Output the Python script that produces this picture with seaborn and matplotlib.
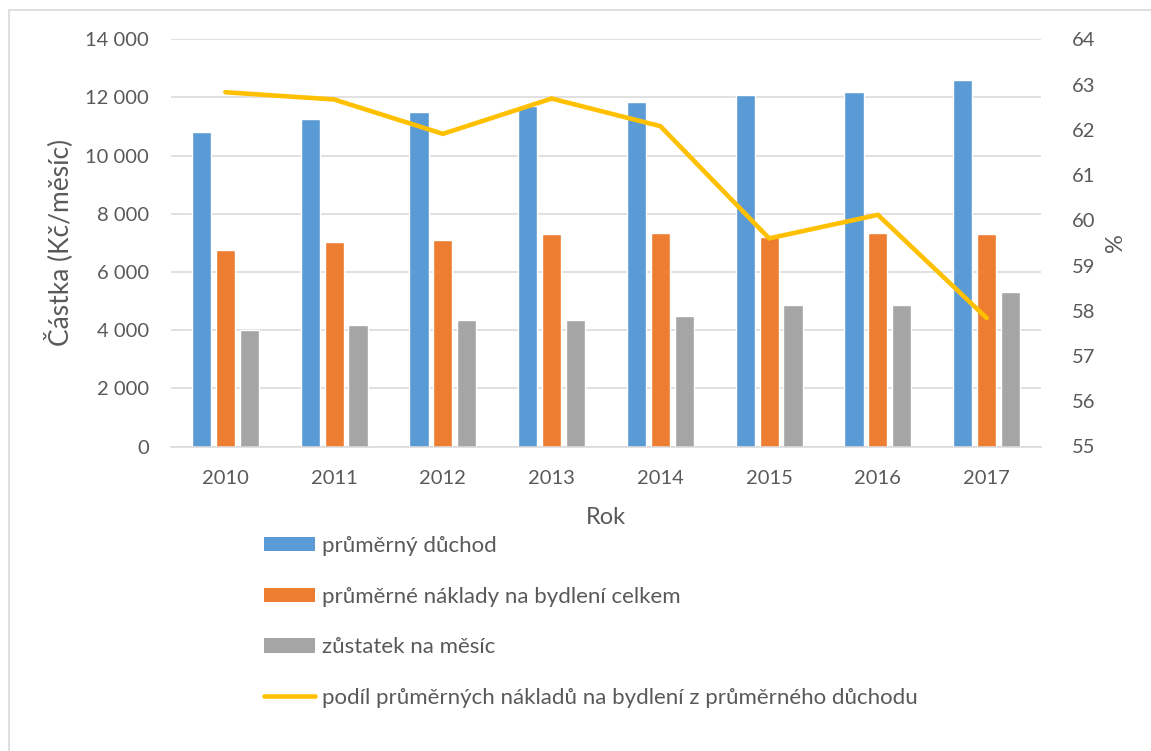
import numpy as np
import pandas as pd
import matplotlib
matplotlib.use("Agg")
import matplotlib.pyplot as plt
import seaborn as sns
from matplotlib.patches import Patch
from matplotlib.lines import Line2D
from matplotlib.ticker import FuncFormatter, FixedLocator

# ---- data ----
years = ["2010", "2011", "2012", "2013", "2014", "2015", "2016", "2017"]
prumerny_duchod = [10800, 11250, 11500, 11700, 11850, 12100, 12200, 12600]
naklady_bydleni = [6750, 7030, 7100, 7300, 7350, 7200, 7330, 7290]
zustatek = [4000, 4170, 4360, 4360, 4480, 4880, 4860, 5310]
podil = [62.83, 62.67, 61.91, 62.69, 62.08, 59.60, 60.12, 57.84]

series_names = [
    "průměrný důchod",
    "průměrné náklady na bydlení celkem",
    "zůstatek na měsíc",
]
line_name = "podíl průměrných nákladů na bydlení z průměrného důchodu"
colors = ["#5B9BD5", "#ED7D31", "#A5A5A5"]
line_color = "#FFC000"
text_color = "#595959"
grid_color = "#D9D9D9"

df = pd.DataFrame({
    "Rok": years * 3,
    "serie": [series_names[0]] * 8 + [series_names[1]] * 8 + [series_names[2]] * 8,
    "hodnota": prumerny_duchod + naklady_bydleni + zustatek,
})

sns.set_theme(style="white")
plt.rcParams["font.family"] = ["Lato", "DejaVu Sans"]

W, H = 1151, 751
fig = plt.figure(figsize=(W / 100, H / 100), dpi=100)
ax = fig.add_axes([171 / W, 1 - 446.5 / H, (1041 - 171) / W, (446.5 - 39.3) / H])

sns.barplot(data=df, x="Rok", y="hodnota", hue="serie", hue_order=series_names,
            palette=colors, width=0.66, gap=0.2, saturation=1, ax=ax,
            legend=False, errorbar=None)

ax.set_xlim(-0.5, len(years) - 0.5)
ax.set_ylim(0, 14000)
ax.set_yticks(np.arange(0, 14001, 2000))
ax.yaxis.set_major_formatter(FuncFormatter(lambda v, p: f"{v:,.0f}".replace(",", " ")))
ax.grid(axis="y", color=grid_color, linewidth=1.1)
ax.set_axisbelow(True)
for s in ["left", "right", "top"]:
    ax.spines[s].set_visible(False)
ax.spines["bottom"].set_color(grid_color)
ax.spines["bottom"].set_linewidth(1.1)
ax.tick_params(axis="y", length=0, pad=16, labelsize=14.5, labelcolor=text_color)
ax.tick_params(axis="x", which="major", length=0, pad=17, labelsize=14.5, labelcolor=text_color)
ax.xaxis.set_minor_locator(FixedLocator(np.arange(-0.5, len(years), 1.0)))
ax.tick_params(axis="x", which="minor", length=4, width=1.1, color=grid_color)
ax.set_xlabel("Rok", fontsize=17, color=text_color, labelpad=14)
ax.set_ylabel("Částka (Kč/měsíc)", fontsize=19, color=text_color, labelpad=9)

ax2 = ax.twinx()
sns.lineplot(x=np.arange(len(years)), y=podil, color=line_color, linewidth=3.3,
             ax=ax2, legend=False)
for l in ax2.lines:
    l.set_solid_capstyle("round")
    l.set_solid_joinstyle("miter")
ax2.set_ylim(55, 64)
ax2.set_yticks(np.arange(55, 65, 1))
for s in ["left", "right", "top", "bottom"]:
    ax2.spines[s].set_visible(False)
ax2.tick_params(axis="y", length=0, pad=22, labelsize=14.5, labelcolor=text_color)
ax2.set_ylabel("%", fontsize=17, color=text_color, labelpad=7)
ax2.grid(False)

handles = [Patch(facecolor=c, edgecolor="none") for c in colors]
handles.append(Line2D([0], [0], color=line_color, linewidth=3.3, solid_capstyle="round"))
labels = series_names + [line_name]
leg = fig.legend(handles, labels, loc="upper left",
                 bbox_to_anchor=(264 / W, 1 - 536 / H), frameon=False,
                 borderpad=0, borderaxespad=0, handlelength=2.3, handleheight=0.63,
                 handletextpad=0.31, labelspacing=1.38, fontsize=16)
for t in leg.get_texts():
    t.set_color(text_color)

# outer chart border (left and top visible)
fig.add_artist(Line2D([8.5 / W, 8.5 / W], [0, 1 - 10 / H], color=grid_color, linewidth=1.2,
                      transform=fig.transFigure))
fig.add_artist(Line2D([8.5 / W, 1], [1 - 10 / H, 1 - 10 / H], color=grid_color, linewidth=1.2,
                      transform=fig.transFigure))

fig.savefig("out.png", dpi=100, facecolor="white")
